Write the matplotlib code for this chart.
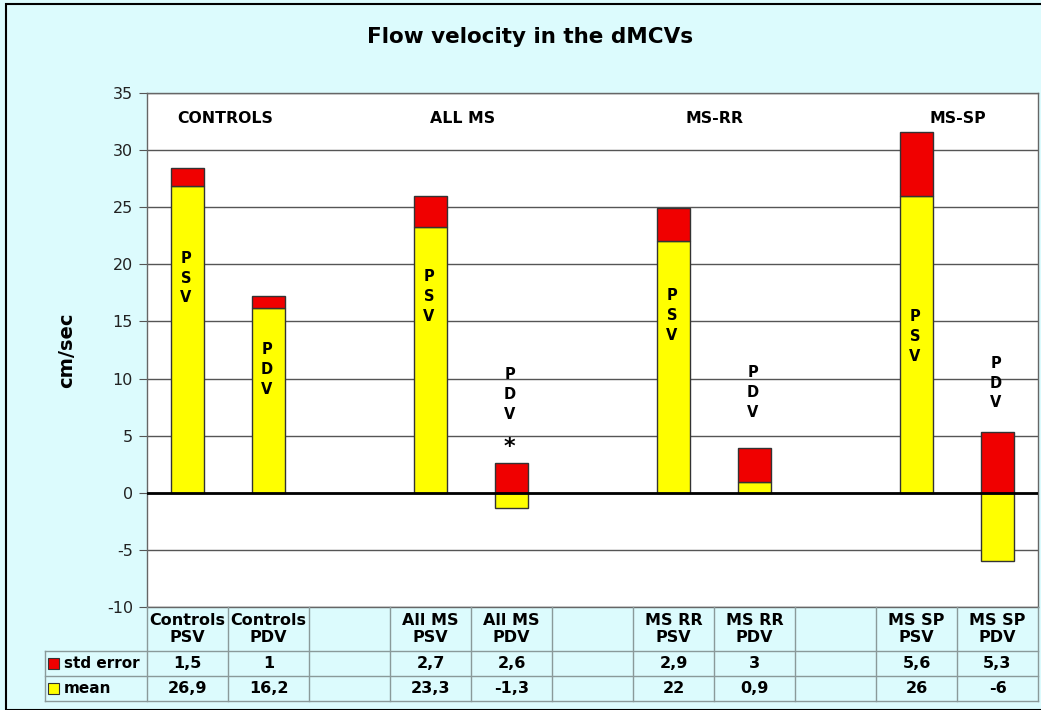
"""
Flow velocity in the dMCVs: stacked mean + std error columns with a data table.
"""

import matplotlib.pyplot as plt
import numpy as np
from matplotlib.patches import Rectangle

plt.rcParams["axes.unicode_minus"] = False

# -----------------------------
# 1. Data
# -----------------------------

COLUMN_LABELS = [
    "Controls\nPSV", "Controls\nPDV", "",
    "All MS\nPSV", "All MS\nPDV", "",
    "MS RR\nPSV", "MS RR\nPDV", "",
    "MS SP\nPSV", "MS SP\nPDV",
]
MEAN = [26.9, 16.2, np.nan, 23.3, -1.3, np.nan, 22, 0.9, np.nan, 26, -6]
STD_ERROR = [1.5, 1, np.nan, 2.7, 2.6, np.nan, 2.9, 3, np.nan, 5.6, 5.3]

GROUP_LABELS = ["CONTROLS", "ALL MS", "MS-RR", "MS-SP"]
GROUP_LABEL_X = [0.47, 3.39, 6.51, 9.51]

# vertical "PSV"/"PDV" tags: (column index, y centre, text)
BAR_TAGS = [
    (0, 18.8, "P\nS\nV"),
    (1, 10.8, "P\nD\nV"),
    (3, 17.2, "P\nS\nV"),
    (4, 8.6, "P\nD\nV"),
    (6, 15.5, "P\nS\nV"),
    (7, 8.8, "P\nD\nV"),
    (9, 13.7, "P\nS\nV"),
    (10, 9.6, "P\nD\nV"),
]
ASTERISK = (4, 4.0)

# -----------------------------
# 2. Style
# -----------------------------

BG = "#DCFBFD"
RED = "#F00000"
YELLOW = "#FFFF00"
GRID = "#555555"
TABLE_LINE = "#8A9A9A"

W, H = 1041, 710


def fmt(v):
    return f"{v:g}".replace(".", ",")


fig = plt.figure(figsize=(W / 100, H / 100), dpi=100)
fig.patch.set_facecolor(BG)

# plot area in pixels: left 147, right 1038, top 93, bottom 607
ax = fig.add_axes([147 / W, (H - 607) / H, (1038 - 147) / W, (607 - 93) / H])
ax.set_facecolor("white")

x = np.arange(len(COLUMN_LABELS))
mean = np.array(MEAN, dtype=float)
err = np.array(STD_ERROR, dtype=float)

ax.bar(x, mean, width=0.41, color=YELLOW, edgecolor="#333333", linewidth=1, zorder=3)
ax.bar(x, err, bottom=np.maximum(mean, 0), width=0.41, color=RED,
       edgecolor="#333333", linewidth=1, zorder=3)

ax.set_xlim(-0.5, len(COLUMN_LABELS) - 0.5)
ax.set_ylim(-10, 35)
ax.set_yticks(np.arange(-10, 36, 5))
ax.set_xticks([])
ax.tick_params(axis="y", direction="out", length=6, color=GRID, labelsize=11.5,
               labelcolor="#222222", pad=4)

ax.grid(axis="y", color=GRID, linewidth=1, zorder=1)
ax.axhline(0, color="black", linewidth=2, zorder=4)
for side in ["top", "right", "left", "bottom"]:
    ax.spines[side].set_color("#666666")
    ax.spines[side].set_linewidth(1)

ax.set_ylabel("cm/sec", fontsize=14, fontweight="bold", labelpad=22)

fig.text(530 / W, 1 - 37 / H, "Flow velocity in the dMCVs", ha="center", va="center",
         fontsize=15.5, fontweight="bold")

for gx, label in zip(GROUP_LABEL_X, GROUP_LABELS):
    ax.text(gx, 32.8, label, ha="center", va="center", fontsize=11.3, fontweight="bold")

for col, y, tag in BAR_TAGS:
    ax.text(col - 0.02, y, tag, ha="center", va="center", fontsize=10.5,
            fontweight="bold", linespacing=1.4, zorder=5)
ax.text(ASTERISK[0] - 0.02, ASTERISK[1], "*", ha="center", va="center",
        fontsize=16, fontweight="bold")

# -----------------------------
# 3. Data table below the plot
# -----------------------------

ax_h = 607 - 93
ax_w = 1038 - 147
row_edges = [0, -44 / ax_h, -69 / ax_h, -94 / ax_h]
label_left = (45 - 147) / ax_w

trans = ax.get_xaxis_transform()
line_kw = dict(color=TABLE_LINE, linewidth=1, clip_on=False, zorder=6)

for y in row_edges[1:]:
    ax.plot([label_left, 1], [y, y], transform=ax.transAxes, **line_kw)
for b in np.arange(-0.5, len(COLUMN_LABELS), 1.0):
    ax.plot([b, b], [row_edges[0], row_edges[-1]], transform=trans, **line_kw)
ax.plot([label_left, label_left], [row_edges[1], row_edges[-1]],
        transform=ax.transAxes, **line_kw)

cell_kw = dict(ha="center", va="center", fontsize=11.5, fontweight="bold",
               transform=trans, clip_on=False)
mid = [(row_edges[k] + row_edges[k + 1]) / 2 for k in range(3)]
for i, label in enumerate(COLUMN_LABELS):
    ax.text(i, mid[0], label, linespacing=1.1, **cell_kw)
    if not np.isnan(err[i]):
        ax.text(i, mid[1], fmt(err[i]), **cell_kw)
        ax.text(i, mid[2], fmt(mean[i]), **cell_kw)

# series names with colour keys
for row, name, color in [(1, "std error", RED), (2, "mean", YELLOW)]:
    key_x = label_left + 3 / ax_w
    ax.add_patch(Rectangle((key_x, mid[row] - 5.5 / ax_h), 11 / ax_w, 11 / ax_h,
                           transform=ax.transAxes, facecolor=color,
                           edgecolor="#333333", linewidth=0.8, clip_on=False))
    ax.text(key_x + 16 / ax_w, mid[row], name, ha="left", va="center", fontsize=11,
            fontweight="bold", transform=ax.transAxes, clip_on=False)

# outer chart border
fig.patches.append(Rectangle((6 / W, 0), 1.0, 1 - 4 / H, transform=fig.transFigure,
                             fill=False, edgecolor="black", linewidth=1.5))

fig.savefig("out.png", dpi=100, facecolor=BG)
